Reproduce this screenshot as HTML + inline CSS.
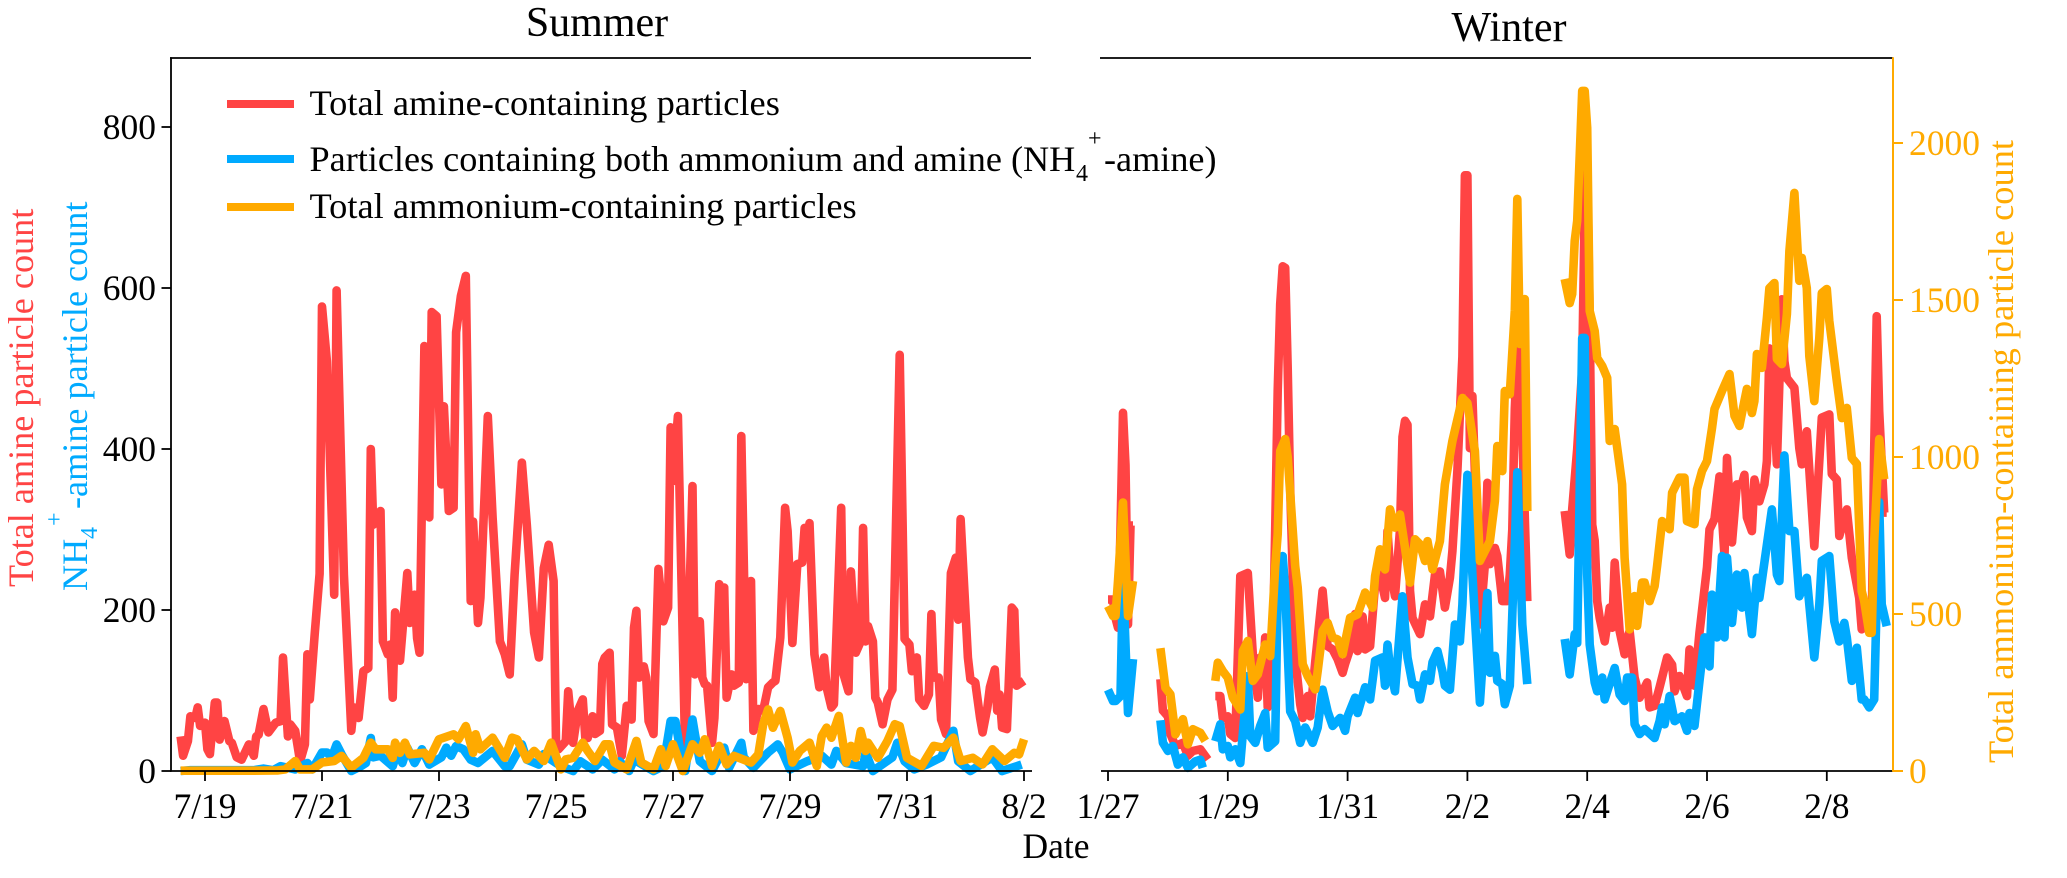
<!DOCTYPE html>
<html lang="en">
<head>
<meta charset="utf-8">
<title>Summer and winter amine and ammonium particle counts</title>
<style>
html,body{margin:0;padding:0;background:#fff;}
svg{display:block;font-family:"Liberation Serif","Times New Roman",serif;}
</style>
</head>
<body>
<svg id="chart" xmlns="http://www.w3.org/2000/svg" width="2067" height="878" viewBox="0 0 2067 878">
  <rect x="0" y="0" width="2067" height="878" fill="#ffffff"/>
  <g id="marks"></g>
  <g id="axes"></g>

  <text x="597" y="36" font-size="42" text-anchor="middle">Summer</text>
  <text x="1509" y="41" font-size="42" text-anchor="middle">Winter</text>
  <text x="1056" y="858" font-size="35.5" text-anchor="middle">Date</text>

  <text transform="translate(33,587) rotate(-90)" font-size="36.2" fill="#FF4444">Total amine particle count</text>
  <text transform="translate(87,591) rotate(-90)" font-size="36.2" fill="#00AAFF">NH<tspan x="52" y="10" font-size="24">4</tspan><tspan x="65" y="-25" font-size="24">+</tspan><tspan x="82" y="0">-amine particle count</tspan></text>
  <text transform="translate(2013,763) rotate(-90)" font-size="36.4" fill="#FFAA00">Total ammonium-containing particle count</text>

  <g>
    <g>
      <line x1="227" x2="294" y1="104" y2="104" stroke="#FF4444" stroke-width="8"/>
      <text x="309.5" y="115" font-size="36.4">Total amine-containing particles</text>
    </g>
    <g>
      <line x1="227" x2="294" y1="159" y2="159" stroke="#00AAFF" stroke-width="8"/>
      <text x="309.5" y="171" font-size="36.2">Particles containing both ammonium and amine (NH<tspan x="1076" y="181" font-size="24">4</tspan><tspan x="1088" y="146" font-size="24">+</tspan><tspan x="1104" y="171">-amine)</tspan></text>
    </g>
    <g>
      <line x1="227" x2="294" y1="207" y2="207" stroke="#FFAA00" stroke-width="8"/>
      <text x="309.5" y="218" font-size="36.4">Total ammonium-containing particles</text>
    </g>
  </g>
</svg>

<script>
// ---------- tick labels ----------
const leftTickValues = [0, 200, 400, 600, 800];
const rightTickValues = [0, 500, 1000, 1500, 2000];
const summerTickHours = [0, 48, 96, 144, 192, 240, 288, 336];
const summerTickLabels = ['7/19', '7/21', '7/23', '7/25', '7/27', '7/29', '7/31', '8/2'];
const winterTickHours = [0, 48, 96, 144, 192, 240, 288];
const winterTickLabels = ['1/27', '1/29', '1/31', '2/2', '2/4', '2/6', '2/8'];

// ---------- summer series: hours since 7/19 00:00 and particle counts ----------
const summerAmineHours = [-10,-9,-7,-6,-4,-3,-2,0,1,2,4,5,6,8,10,11,13,15,18,20,21,22,24,26,29,31,32,34,35,37,39,41,42,43,45,47,48,50,53,54,57,60,61,63,65,67,68,69,72,73,75,76,77,78,80,83,84,86,87,88,90,92,93,95,97,98,100,102,103,105,107,109,110,112,113,116,118,121,123,125,127,130,132,135,137,139,141,143,144,145,148,149,151,153,155,156,157,159,160,162,163,164,166,167,169,171,173,175,176,177,178,180,181,182,184,186,188,190,191,192,194,197,200,201,203,204,205,206,208,209,211,212,213,214,216,217,219,220,222,224,225,227,229,231,233,234,236,238,239,241,243,245,246,247,248,250,252,254,255,257,258,261,262,264,265,267,269,270,271,272,274,275,276,278,280,282,285,287,289,290,292,293,295,297,298,299,301,302,304,306,308,309,310,313,314,316,318,319,321,322,324,325,326,327,329,331,332,333,336];
const summerAmineCounts = [43,19,37,68,66,79,56,60,27,21,85,85,39,62,37,35,17,14,33,19,43,45,77,48,60,62,141,43,58,50,12,33,145,89,170,245,577,509,219,597,244,50,79,66,124,128,400,306,323,161,145,157,91,197,137,246,184,219,165,147,528,315,570,565,356,453,323,327,545,590,615,211,310,184,215,441,315,161,145,120,244,383,306,172,141,252,281,236,37,27,37,99,35,75,89,41,41,68,46,50,133,141,147,58,54,19,81,64,178,199,116,130,116,62,46,251,186,203,427,360,441,23,354,120,186,116,108,106,35,66,232,190,228,91,120,106,110,416,114,236,50,77,75,104,110,112,166,327,298,159,257,259,302,269,308,145,104,141,104,79,83,327,120,99,248,147,161,302,161,180,161,91,85,58,89,101,517,164,157,124,141,89,81,95,195,116,116,64,46,246,265,188,313,141,114,110,66,48,79,104,126,75,95,54,52,203,199,106,112];

const summerBothHours = [-10,-6,0,6,12,20,24,28,31,37,42,44,48,50,52,54,56,60,64,66,68,69,72,77,79,81,83,86,89,92,97,99,101,103,106,109,112,118,123,125,130,132,137,139,142,146,151,154,159,163,168,170,174,176,184,188,191,193,195,197,200,201,203,208,213,215,220,221,225,231,235,237,240,247,253,257,259,263,270,271,274,282,284,287,291,296,302,307,309,314,323,327,335];
const summerBothCounts = [0,1,1,1,1,1,3,1,6,2,10,2,23,23,17,33,21,0,6,10,41,17,19,6,25,10,29,10,27,8,17,29,19,31,27,14,10,25,6,6,33,14,8,21,14,6,0,12,2,14,2,12,0,14,0,6,62,62,25,0,64,46,12,0,29,4,35,17,4,23,33,23,2,12,19,8,25,10,6,23,0,17,35,12,2,8,17,50,12,0,17,0,8];

const summerAmmoniumHours = [-10,20,30,33,37,39,44,48,53,56,60,65,68,70,75,77,78,80,82,84,90,92,96,102,104,107,110,111,113,118,123,126,128,132,135,139,142,146,148,151,155,157,160,164,166,168,173,177,179,184,187,189,192,196,200,203,205,208,211,214,217,224,227,229,231,233,236,239,241,244,248,251,253,255,257,260,263,265,267,269,271,272,276,280,283,285,288,294,299,303,307,310,315,319,323,328,332,334,336];
const summerAmmoniumCounts = [1,1,2,5,32,5,5,27,32,48,11,42,90,69,69,42,90,58,90,53,58,37,101,117,101,143,58,117,69,106,42,106,101,37,64,32,90,5,37,42,90,64,32,85,85,27,5,96,27,5,69,16,85,0,85,58,101,16,80,21,48,27,53,149,196,138,191,106,27,64,90,16,111,138,106,175,27,80,42,127,64,90,42,96,149,143,42,16,80,74,106,32,42,21,69,32,58,53,101];

// ---------- winter series: hours since 1/27 00:00 and particle counts (null = data gap) ----------
const winterAmineHours = [0,2,3,4,5,6,7,8,9,10,15,21,22,24,25,27,30,32,34,37,40,41,43,45,46,48,49,51,53,56,58,60,61,62,63,64,66,67,68,69,70,71,72,73,75,77,78,80,81,83,86,88,90,92,94,95,98,99,100,102,103,105,107,109,111,112,113,115,117,118,119,120,121,122,125,127,129,131,133,135,137,138,140,142,143,144,145,146,149,151,152,153,155,156,158,160,161,162,163,164,165,166,168,175,183,185,186,188,190,191,192,193,194,195,196,197,199,201,202,203,205,207,209,211,213,216,217,219,221,224,226,227,229,232,233,235,237,240,241,243,245,247,248,250,252,254,255,256,258,259,261,263,264,265,266,268,270,271,272,275,277,278,280,283,285,286,289,290,292,293,296,298,301,302,303,306,307,308,309,311,312];
const winterAmineCounts = [213,213,190,178,300,445,380,182,305,305,null,114,75,68,46,31,35,19,25,27,14,null,93,93,66,68,46,41,242,246,145,91,141,112,166,79,145,300,472,580,627,625,500,350,141,83,66,93,68,135,224,155,151,139,122,133,161,195,149,192,151,155,232,244,215,298,253,217,300,415,435,430,224,190,170,207,192,244,248,203,240,273,373,515,740,740,401,466,182,257,358,257,277,267,211,211,244,300,450,525,480,420,211,null,323,269,325,400,500,700,760,560,306,286,211,190,161,203,178,259,174,145,174,116,91,110,79,81,104,141,132,99,118,93,151,106,172,253,300,313,366,267,389,284,356,356,368,315,298,362,335,356,385,525,509,381,586,509,488,476,401,381,422,279,385,439,443,369,362,292,325,265,215,176,178,178,400,565,447,321,321];

const winterBothHours = [0,2,3,5,6,8,10,15,21,22,24,26,28,30,32,35,37,38,41,43,45,46,48,49,51,53,56,57,59,61,63,64,67,68,70,71,73,75,77,79,82,84,86,88,90,93,95,96,99,100,103,105,107,110,111,112,113,115,118,120,122,124,125,127,129,130,132,134,135,137,139,141,142,144,146,149,152,153,155,156,158,159,161,164,166,168,175,183,185,187,188,190,191,192,193,195,196,198,199,203,205,207,208,210,211,213,215,219,221,222,223,225,227,230,232,233,235,237,239,241,242,244,246,247,248,250,252,254,255,258,260,261,266,268,269,271,273,275,277,280,283,285,286,289,291,293,295,296,298,300,302,303,305,307,309,310,312];
const winterBothCounts = [101,87,87,93,241,72,139,null,63,35,25,31,8,17,4,12,14,4,null,37,58,27,31,17,27,10,118,43,35,56,72,29,37,224,267,224,74,62,35,54,35,54,101,74,56,66,50,68,91,72,104,89,137,141,106,157,128,99,217,141,108,106,89,120,112,135,149,124,106,101,182,161,207,368,244,85,221,122,143,112,108,83,106,371,182,108,null,164,120,170,159,538,538,245,157,110,99,116,89,128,95,87,116,116,58,46,52,41,62,79,58,93,62,68,50,72,56,112,166,130,219,166,267,166,265,184,244,203,246,170,240,215,325,244,236,392,298,298,217,240,141,207,261,267,186,161,184,166,112,153,89,89,79,89,334,207,180];

const winterAmmoniumHours = [0,2,3,4,6,8,10,15,21,23,25,26,27,30,32,34,37,39,41,43,44,46,48,50,53,54,56,58,60,63,65,67,68,69,71,72,75,76,78,80,83,84,86,88,90,92,94,97,100,103,106,107,109,111,113,115,117,119,121,123,125,127,128,130,133,135,138,142,144,147,149,153,155,156,158,159,161,163,164,165,167,168,175,183,185,186,187,188,190,191,192,193,195,196,198,200,201,203,206,207,209,211,212,214,215,217,219,220,222,225,226,229,231,232,235,236,238,240,242,243,246,249,251,253,255,256,258,259,260,262,264,265,267,268,270,272,273,275,277,278,280,281,283,285,286,288,289,292,294,296,298,300,302,303,305,306,307,309,311];
const winterAmmoniumCounts = [525,494,494,605,855,494,605,null,391,265,244,180,117,165,85,133,122,96,null,287,345,318,297,234,196,382,414,287,308,403,366,650,754,1019,1057,1000,653,584,340,302,260,318,446,472,425,419,372,488,499,568,520,621,706,642,833,775,817,711,600,738,722,669,732,642,732,913,1051,1188,1172,1019,669,732,860,1035,955,1210,1200,1465,1822,1360,1503,828,null,1567,1490,1519,1688,1752,2166,2166,2048,1465,1401,1315,1290,1252,1051,1089,913,679,451,557,462,600,600,541,589,653,796,770,886,934,934,796,786,897,955,987,1092,1153,1210,1264,1131,1099,1178,1217,1140,1178,1328,1284,1443,1538,1554,1312,1296,1455,1656,1841,1561,1634,1538,1322,1178,1379,1522,1535,1433,1242,1124,1156,997,978,573,541,440,440,732,1057,929];

// ---------- axis functions ----------
const PLOT_BOTTOM = 771;
const PLOT_TOP = 58;
function yLeft(v) { return PLOT_BOTTOM - v * 0.805; }
function yRight(v) { return PLOT_BOTTOM - v * 0.314; }
function xSummer(h) { return 205 + h / 24 * 58.5; }
function xWinter(h) { return 1108 + h / 24 * 59.9; }

const NS = 'http://www.w3.org/2000/svg';
const marks = document.getElementById('marks');
const axes = document.getElementById('axes');

function drawSeries(hours, counts, xFn, yFn, color, name) {
  let d = '';
  let pen = false;
  for (let i = 0; i < hours.length; i++) {
    if (counts[i] === null) { pen = false; continue; }
    d += (pen ? 'L' : 'M') + xFn(hours[i]).toFixed(1) + ' ' + yFn(counts[i]).toFixed(1);
    pen = true;
  }
  const path = document.createElementNS(NS, 'path');
  path.setAttribute('d', d);
  path.setAttribute('fill', 'none');
  path.setAttribute('stroke', color);
  path.setAttribute('stroke-width', '8.6');
  path.setAttribute('stroke-linejoin', 'round');
  path.setAttribute('stroke-linecap', 'butt');
  
  
  marks.appendChild(path);
}

function drawLine(x1, y1, x2, y2, color, width, name) {
  const line = document.createElementNS(NS, 'line');
  line.setAttribute('x1', x1);
  line.setAttribute('y1', y1);
  line.setAttribute('x2', x2);
  line.setAttribute('y2', y2);
  line.setAttribute('stroke', color);
  line.setAttribute('stroke-width', width);
  
  
  axes.appendChild(line);
}

function drawLabel(x, y, str, anchor, color, name) {
  const t = document.createElementNS(NS, 'text');
  t.setAttribute('x', x);
  t.setAttribute('y', y);
  t.setAttribute('font-size', '35.5');
  t.setAttribute('text-anchor', anchor);
  t.setAttribute('fill', color);
  
  
  t.textContent = str;
  axes.appendChild(t);
}

// ---------- series ----------
drawSeries(summerAmineHours, summerAmineCounts, xSummer, yLeft, '#FF4444', 'summer-amine-line');
drawSeries(summerBothHours, summerBothCounts, xSummer, yLeft, '#00AAFF', 'summer-nh4-amine-line');
drawSeries(summerAmmoniumHours, summerAmmoniumCounts, xSummer, yRight, '#FFAA00', 'summer-ammonium-line');
drawSeries(winterAmineHours, winterAmineCounts, xWinter, yLeft, '#FF4444', 'winter-amine-line');
drawSeries(winterBothHours, winterBothCounts, xWinter, yLeft, '#00AAFF', 'winter-nh4-amine-line');
drawSeries(winterAmmoniumHours, winterAmmoniumCounts, xWinter, yRight, '#FFAA00', 'winter-ammonium-line');

// ---------- spines ----------
drawLine(171, PLOT_TOP - 0.7, 171, PLOT_BOTTOM + 0.7, '#000', 1.8, 'left-y-axis-line');
drawLine(170, PLOT_TOP, 1031, PLOT_TOP, '#000', 1.8, 'summer-top-border');
drawLine(1100, PLOT_TOP, 1893, PLOT_TOP, '#000', 1.8, 'winter-top-border');
drawLine(170, PLOT_BOTTOM, 1032, PLOT_BOTTOM, '#000', 1.8, 'summer-x-axis-line');
drawLine(1101, PLOT_BOTTOM, 1893, PLOT_BOTTOM, '#000', 1.8, 'winter-x-axis-line');
drawLine(1893, PLOT_TOP - 0.7, 1893, PLOT_BOTTOM + 0.7, '#FFAA00', 2, 'right-y-axis-line');

// ---------- ticks ----------
leftTickValues.forEach(function (v) {
  drawLine(161.5, yLeft(v), 171, yLeft(v), '#000', 1.8, 'left-y-tick');
  drawLabel(156, yLeft(v) + 12, String(v), 'end', '#000', 'left-y-tick-label');
});
rightTickValues.forEach(function (v) {
  drawLine(1893, yRight(v), 1903, yRight(v), '#FFAA00', 2, 'right-y-tick');
  drawLabel(1909, yRight(v) + 12, String(v), 'start', '#FFAA00', 'right-y-tick-label');
});
summerTickHours.forEach(function (h, i) {
  drawLine(xSummer(h), PLOT_BOTTOM, xSummer(h), PLOT_BOTTOM + 10, '#000', 1.8, 'summer-x-tick');
  drawLabel(xSummer(h), 818, summerTickLabels[i], 'middle', '#000', 'summer-x-tick-label');
});
winterTickHours.forEach(function (h, i) {
  drawLine(xWinter(h), PLOT_BOTTOM, xWinter(h), PLOT_BOTTOM + 10, '#000', 1.8, 'winter-x-tick');
  drawLabel(xWinter(h), 818, winterTickLabels[i], 'middle', '#000', 'winter-x-tick-label');
});
</script>
</body>
</html>
